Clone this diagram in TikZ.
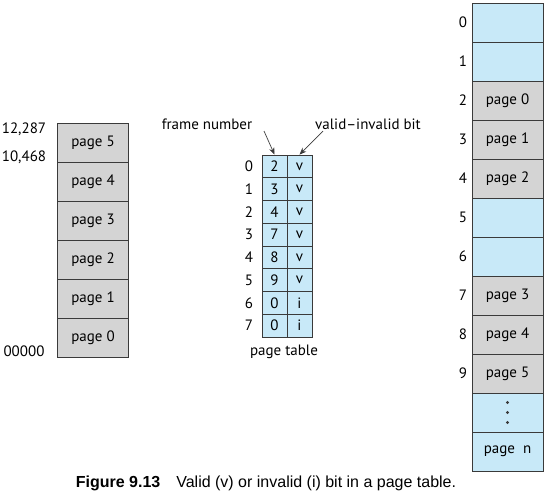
\documentclass[tikz,border=0pt]{standalone}
\usepackage{fontspec}
\setmainfont{PT Sans}
\newfontfamily\capfont{Liberation Sans}
\usetikzlibrary{arrows.meta}
\definecolor{cellblue}{HTML}{C8E9F8}
\definecolor{cellgray}{HTML}{D4D4D4}
\definecolor{edge}{HTML}{3A3A3A}
\begin{document}
\begin{tikzpicture}[x=1pt,y=-1pt,
  lbl/.style={font=\fontsize{15}{17}\selectfont, inner sep=0pt},
  gcell/.style={draw=edge, line width=0.8pt, fill=cellgray, minimum width=71pt, minimum height=39pt, inner sep=0pt, font=\fontsize{15}{17}\selectfont},
  bcell/.style={gcell, fill=cellblue},
  tcell/.style={draw=edge, line width=0.8pt, fill=cellblue, minimum width=25pt, minimum height=22.75pt, inner sep=0pt, font=\fontsize{15}{17}\selectfont},
  arr/.style={-{Stealth[length=7pt,width=5.5pt]}, line width=0.7pt, draw=edge}]
\useasboundingbox (0,0) rectangle (547,496);
% logical memory
\foreach \i/\t in {0/page 5,1/page 4,2/page 3,3/page 2,4/page 1,5/page 0}{
  \node[gcell] (l\i) at (93,142.5+39*\i) {\t};
}
\node[lbl] (a1) at (24,129) {12,287};
\node[lbl] (a2) at (24,157) {10,468};
\node[lbl] (a3) at (24,351) {00000};
% page table
\foreach \i/\f/\v in {0/2/v,1/3/v,2/4/v,3/7/v,4/8/v,5/9/v,6/0/i,7/0/i}{
  \node[tcell] (f\i) at (274.5,166.4+22.75*\i) {\f};
  \node[tcell] (v\i) at (299.5,166.4+22.75*\i) {\v};
  \node[lbl] (n\i) at (249,166.4+22.75*\i) {\i};
}
\node[lbl] (fn) at (207,124) {frame number};
\node[lbl] (vb) at (368,124) {valid--invalid bit};
\node[lbl] (pt) at (284,352) {page table};
\coordinate (fa) at (264,131);
\coordinate (va) at (323,131);
\draw[arr] (fa) -- (f0.north);
\draw[arr] (va) -- (v0.north);
% physical memory
\foreach \i/\t/\s in {0//bcell,1//bcell,2/page 0/gcell,3/page 1/gcell,4/page 2/gcell,5//bcell,6//bcell,7/page 3/gcell,8/page 4/gcell,9/page 5/gcell}{
  \node[\s] (p\i) at (507.5,22.5+39*\i) {\t};
  \node[lbl] (m\i) at (463,22.5+39*\i) {\i};
}
\node[bcell] (pd) at (507.5,412.5) {};
\node[bcell] (pn) at (507.5,451.5) {page\ \ n};
\foreach \k in {-1,0,1}{\fill[edge] (pd.center) ++(0,10*\k) circle (1.7pt);}
% caption
\node[inner sep=0pt, font=\capfont\fontsize{16}{19}\selectfont] (cap) at (266,483) {\textbf{Figure 9.13}\quad Valid (v) or invalid (i) bit in a page table.};
\end{tikzpicture}
\end{document}
